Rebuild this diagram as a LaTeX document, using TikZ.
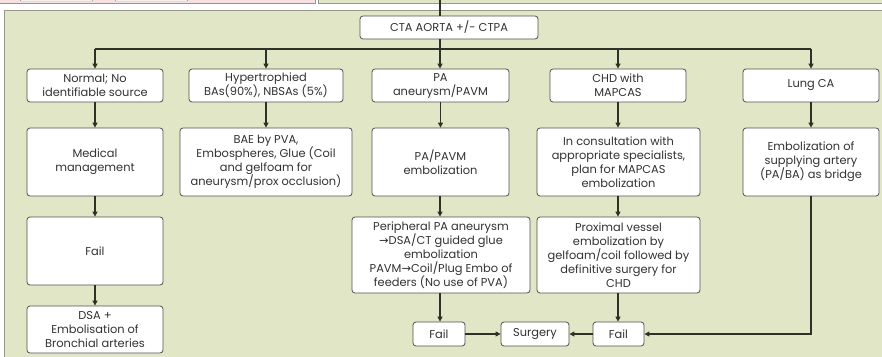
\documentclass[tikz,border=0pt]{standalone}
\usepackage{fontspec}
\setmainfont{Poppins}
\newfontfamily\arrowfont{DejaVu Sans}
\usetikzlibrary{arrows.meta}
\definecolor{panelgreen}{RGB}{225,231,198}
\definecolor{panelpink}{RGB}{246,225,224}
\definecolor{panelline}{RGB}{150,152,138}
\definecolor{boxline}{RGB}{80,80,76}
\definecolor{flowline}{RGB}{45,50,38}
\definecolor{boxtext}{RGB}{50,50,50}
\newcommand{\toarrow}{{\arrowfont\char"2192}}

\begin{document}
\begin{tikzpicture}[x=1pt,y=-1pt,
    box/.style={draw=boxline,fill=white,rounded corners=3pt,align=center,text=boxtext,
      inner sep=1pt,font=\fontsize{11.4}{14}\selectfont,line width=0.8pt},
    flow/.style={draw=flowline,line width=1.2pt},
    arr/.style={flow,-{Triangle[length=5pt,width=5pt]}}]
    \useasboundingbox (0,0) rectangle (882,356);
    \draw[panelline,fill=panelpink] (-5,-5) rectangle (315,3);
    \draw[panelline,fill=white,rounded corners=1pt] (20,-5) rectangle (93,1);
    \draw[panelline,fill=white,rounded corners=1pt] (115,-5) rectangle (188,1);
    \draw[panelline,fill=panelgreen] (318,-5) rectangle (890,3);
    \draw[panelline,fill=panelgreen] (4,10) rectangle (890,365);

    \node[box,minimum width=178,minimum height=23] (cta) at (449,27.5) {CTA AORTA +/- CTPA};

    \node[box,minimum width=136,minimum height=33] (normal) at (95,85.5) {Normal; No\\identifiable source};
    \node[box,minimum width=154,minimum height=33] (hyper) at (266,85.5) {Hypertrophied\\BAs(90\%), NBSAs (5\%)};
    \node[box,minimum width=137,minimum height=33] (pa) at (440.5,85.5) {PA\\aneurysm/PAVM};
    \node[box,minimum width=136,minimum height=33] (chd) at (618,85.5) {CHD with\\MAPCAS};
    \node[box,minimum width=136,minimum height=33] (lung) at (811,85.5) {Lung CA};

    \node[box,minimum width=136,minimum height=68] (medical) at (95,162) {Medical\\management};
    \node[box,minimum width=172,minimum height=68] (bae) at (266,162) {BAE by PVA,\\Embospheres, Glue (Coil\\and gelfoam for\\aneurysm/prox occlusion)};
    \node[box,minimum width=137,minimum height=68] (paemb) at (440.5,162) {PA/PAVM\\embolization};
    \node[box,minimum width=163,minimum height=68] (consult) at (618.5,162) {In consultation with\\appropriate specialists,\\plan for MAPCAS\\embolization};
    \node[box,minimum width=136,minimum height=68] (supply) at (811,162) {Embolization of\\supplying artery\\(PA/BA) as bridge};

    \node[box,minimum width=136,minimum height=68] (faila) at (95,251) {Fail};
    \node[box,minimum width=178,minimum height=76] (periph) at (441,255) {Peripheral PA aneurysm\\\toarrow DSA/CT guided glue\\embolization\\PAVM\toarrow Coil/Plug Embo of\\feeders (No use of PVA)};
    \node[box,minimum width=163,minimum height=76] (proximal) at (618.5,255) {Proximal vessel\\embolization by\\gelfoam/coil followed by\\definitive surgery for\\CHD};

    \node[box,minimum width=136,minimum height=47] (dsa) at (95,329.5) {DSA +\\Embolisation of\\Bronchial arteries};
    \node[box,minimum width=52,minimum height=24] (failb) at (439,334) {Fail};
    \node[box,minimum width=68,minimum height=24] (surgery) at (535,334) {Surgery};
    \node[box,minimum width=51,minimum height=24] (failc) at (618.5,334) {Fail};

    \coordinate (top) at (440,-5);
    \coordinate (bus) at (440,49);
    \draw[flow] (top) -- (cta.north -| top);
    \draw[flow] (cta.south -| top) -- (bus);
    \draw[flow] (bus -| normal) -- (bus -| lung);
    \draw[arr] (bus -| normal) -- (normal);
    \draw[arr] (bus -| hyper) -- (hyper);
    \draw[arr] (bus) -- (pa.north -| bus);
    \draw[arr] (bus -| chd) -- (chd);
    \draw[arr] (bus -| lung) -- (lung);

    \draw[arr] (normal) -- (medical);
    \draw[arr] (hyper) -- (bae);
    \draw[arr] (pa) -- (paemb);
    \draw[arr] (chd) -- (consult.north -| chd);
    \draw[arr] (lung) -- (supply);

    \draw[arr] (medical) -- (faila);
    \draw[arr] (faila) -- (dsa);
    \draw[arr] (paemb.south -| bus) -- (periph.north -| bus);
    \draw[arr] (consult.south -| chd) -- (proximal.north -| chd);
    \draw[arr] (periph.south -| bus) -- (failb.north -| bus);
    \draw[arr] (proximal.south -| chd) -- (failc.north -| chd);
    \draw[arr] (failb) -- (surgery);
    \draw[arr] (failc) -- (surgery);
    \draw[arr] (supply.south) |- (failc.east);
\end{tikzpicture}
\end{document}
